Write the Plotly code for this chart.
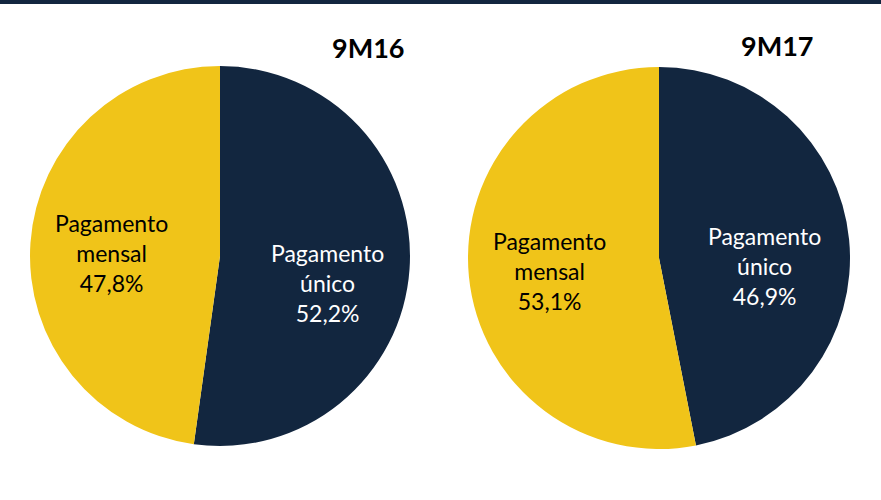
import plotly.graph_objects as go

periods = ["9M16", "9M17"]
categories = ["Pagamento único", "Pagamento mensal"]
values_9m16 = [52.2, 47.8]
values_9m17 = [46.9, 53.1]

navy = "#12263F"
yellow = "#F0C419"
colors = [navy, yellow]
text_colors = ["white", "black"]

W, H = 881, 500
fig = go.Figure()

domains = [
    dict(x=[30 / W, 410 / W], y=[1 - 446 / H, 1 - 66 / H]),
    dict(x=[468 / W, 850 / W], y=[1 - 449 / H, 1 - 67 / H]),
]
series = [values_9m16, values_9m17]

for dom, vals in zip(domains, series):
    fig.add_trace(go.Pie(
        labels=categories, values=vals, sort=False, direction="clockwise",
        rotation=0, marker=dict(colors=colors, line=dict(width=0)),
        textinfo="none", hoverinfo="label+percent", domain=dom, showlegend=False,
    ))

def fmt(v):
    return f"{v:.1f}".replace(".", ",") + "%"

# label anchor positions (pixels, centre of text block)
label_pos = [
    [(327, 283), (111, 253)],
    [(764, 266), (549, 271)],
]
font_family = "Lato, Open Sans, sans-serif"
for vals, positions in zip(series, label_pos):
    for cat, v, (px, py), tc in zip(categories, vals, positions, text_colors):
        words = cat.split(" ")
        txt = "<br>".join(words + [fmt(v)])
        fig.add_annotation(
            x=px / W, y=1 - py / H, xref="paper", yref="paper",
            text=txt, showarrow=False, align="center",
            font=dict(family=font_family, size=23, color=tc),
            xanchor="center", yanchor="middle",
        )

title_pos = [(368, 48), (777, 46)]
for p, (px, py) in zip(periods, title_pos):
    fig.add_annotation(
        x=px / W, y=1 - py / H, xref="paper", yref="paper",
        text=f"<b>{p}</b>", showarrow=False,
        font=dict(family=font_family, size=27, color="black"),
        xanchor="center", yanchor="middle",
    )

fig.add_shape(type="rect", xref="paper", yref="paper",
              x0=0, x1=1, y0=1 - 4 / H, y1=1, fillcolor=navy, line=dict(width=0))

fig.update_layout(
    width=W, height=H, margin=dict(l=0, r=0, t=0, b=0),
    paper_bgcolor="white", plot_bgcolor="white",
)
fig.write_html(
    "out.html",
    config={"displayModeBar": False},
    post_script="document.body.style.margin='0';document.body.style.overflow='hidden';",
)
